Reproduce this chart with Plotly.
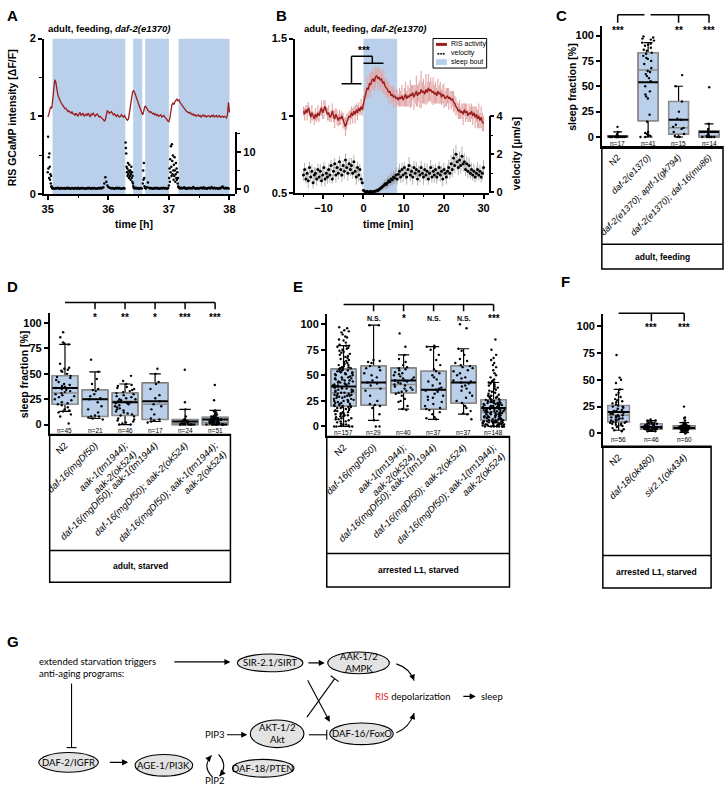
import plotly.graph_objects as go

FONT = "Liberation Sans, Arial, sans-serif"
GFONT = "Lato, Liberation Sans, sans-serif"
W, H = 726, 792
RED = "#9a1c1c"
PINK = "#e2a6a6"
BLUE = "#b9cfea"
GRAY = "#8c8c8c"

# ================= DATA =================
# ---- Panel A: RIS GCaMP (dF/F), one value per minute from 35 h ----
A_ris_start_h = 35.0
A_ris_step_min = 1.0
A_ris = [0.99, 1.02, 1.08, 1.12, 1.10,
         1.25, 1.40, 1.47, 1.44,
         1.35, 1.28, 1.24, 1.20, 1.18, 1.16, 1.14,
         1.12, 1.10, 1.10, 1.08, 1.06, 1.07, 1.05, 1.04, 1.06, 1.03,
         1.03, 1.01, 1.04, 1.02, 1.00, 1.03, 1.05, 1.01, 1.02, 1.04, 1.00, 1.02, 1.03, 1.01, 1.04,
         1.02, 0.99, 1.03, 1.02, 1.04, 1.01, 1.00, 1.02, 1.03, 1.01,
         0.99, 1.00, 0.98, 0.97, 0.96, 0.94, 0.95,
         1.02, 1.07, 1.06, 1.04, 1.05, 1.06, 1.04,
         1.02, 1.03, 1.01, 1.00, 1.02, 1.01, 0.99, 1.00, 1.02, 1.00, 0.99,
         1.01, 0.98, 0.96, 0.95, 0.97,
         1.05, 1.15, 1.25, 1.31, 1.33, 1.31,
         1.27, 1.24, 1.20, 1.16, 1.12, 1.08, 1.04,
         1.02, 1.06, 1.12,
         1.13, 1.10, 1.08, 1.07,
         1.05, 1.06, 1.04, 1.03, 1.04, 1.02, 1.03, 1.01, 1.02, 1.00, 1.01, 1.02, 0.99, 1.00, 1.01,
         0.99, 0.98, 0.96, 0.94, 0.93,
         0.98, 1.08, 1.15, 1.17, 1.15, 1.19, 1.21,
         1.22, 1.20, 1.21, 1.18, 1.16, 1.14, 1.12, 1.10,
         1.09, 1.07, 1.06, 1.05, 1.04, 1.05, 1.03, 1.02, 1.03, 1.01, 1.02, 1.00, 1.01, 1.02, 1.00,
         1.01, 0.99, 1.00, 1.02, 1.00, 1.01, 0.99, 1.00, 1.01, 1.00, 0.99, 1.01, 1.00, 1.02, 0.99,
         1.00, 1.01, 0.99, 1.00, 1.01, 0.99, 1.00, 1.00, 0.99, 1.00, 0.99,
         0.98, 1.02, 1.18, 1.05]
A_bout_start = [35.08, 36.41, 36.61, 37.16]
A_bout_end = [36.28, 36.56, 37.00, 38.00]
# velocity (um/s) in segments: start time (h), sampling step (s), values
A_vel_seg_start_h = [35.0, 35.085, 36.285, 36.42, 36.57, 36.605, 37.0, 37.17]
A_vel_seg_step_s = [20, 60, 20, 60, 20, 60, 20, 60]
A_vel_w1 = [4.5, 14.0, 5.5, 8.5, 3.0, 9.5, 6.0, 2.5, 4.0, 1.5, 3.5, 0.8, 0.5, 0.3, 0.2]
A_vel_s1 = [0.3, 0.2, 0.1, 0.3, 0.2, 0.4, 0.2, 0.1, 0.3, 0.2,
            0.2, 0.3, 0.1, 0.2, 0.4, 0.2, 0.3, 0.1, 0.2, 0.3,
            0.2, 0.1, 0.3, 0.2, 0.2, 0.4, 0.1, 0.2, 0.3, 0.2,
            0.3, 0.2, 0.1, 0.2, 0.3, 0.2, 0.4, 0.2, 0.1, 0.3,
            0.2, 0.3, 0.2, 0.1, 0.2, 0.3, 0.2, 0.4, 0.2, 0.3,
            0.5, 1.5, 3.2, 2.0, 1.0, 0.6, 0.4, 0.3, 0.2, 0.3,
            0.2, 0.1, 0.3, 0.2, 0.4, 0.2, 0.3, 0.2, 0.1, 0.2,
            0.3, 0.2]
A_vel_w2 = [12.5, 11.0, 9.5, 6.0, 4.5, 5.5, 3.5, 7.0, 4.0, 5.0, 3.0, 6.5,
            4.5, 3.5, 5.0, 2.5, 4.0, 6.0, 3.0, 4.5, 2.0, 3.5, 1.5, 0.8]
A_vel_s2 = [0.3, 0.2, 0.4, 0.2, 0.3, 0.1, 0.2, 0.3, 0.2]
A_vel_w3 = [1.5, 5.0, 2.5, 7.0, 3.0, 0.8]
A_vel_s3 = [0.3, 0.2, 0.5, 1.8, 0.4, 0.2, 0.3, 0.2, 0.1, 0.3, 0.2, 0.4,
            0.2, 0.3, 0.1, 0.2, 0.3, 0.2, 0.4, 0.2, 0.3, 0.2, 0.1, 0.3]
A_vel_w4 = [1.0, 3.0, 5.5, 2.0, 8.0, 4.5, 11.5, 6.0, 3.5, 12.0, 7.5, 4.0, 9.0, 5.0, 2.5,
            6.5, 3.5, 8.5, 5.0, 2.0, 4.0, 7.0, 3.0, 5.5, 2.5, 4.5, 1.5, 3.0, 0.8, 0.5]
A_vel_s4 = [0.3, 0.2, 0.4, 0.2, 0.3, 0.5, 0.2, 0.1, 0.3, 0.2,
            0.4, 0.2, 0.3, 0.2, 0.6, 0.3, 0.2, 0.1, 0.3, 0.2,
            0.2, 0.4, 0.3, 0.2, 0.5, 0.2, 0.3, 0.1, 0.2, 0.4,
            0.3, 0.2, 0.6, 0.3, 0.2, 0.4, 0.2, 0.3, 0.2, 0.1,
            0.3, 0.2, 0.5, 0.7, 0.3, 0.2, 0.4, 0.2, 0.3, 0.2]
A_vel_segments = [A_vel_w1, A_vel_s1, A_vel_w2, A_vel_s2, A_vel_w3, A_vel_s3, A_vel_w4, A_vel_s4]

# ---- Panel B: sleep-bout aligned averages, every 0.3 min from -15 min ----
B_start_min = -15.0
B_step_min = 0.3
B_ris = [1.03, 1.01, 1.04, 1.02, 1.05, 1.03, 0.99, 1.02, 1.00, 0.98,
         1.01, 0.99, 1.02, 1.00, 1.03, 1.05, 1.02, 1.04, 1.06, 1.03,
         1.01, 1.02, 0.99, 1.00, 1.03, 1.00, 0.98, 1.01, 0.99, 0.97,
         0.99, 0.98, 1.00, 0.97, 0.95, 0.93, 0.96, 0.98, 1.00, 0.99,
         1.02, 1.00, 1.03, 1.01, 1.04, 1.02, 1.05, 1.03, 1.06, 1.04,
         1.08, 1.12, 1.15, 1.18, 1.17, 1.21, 1.20, 1.23, 1.24, 1.22,
         1.25, 1.26, 1.24, 1.25, 1.23, 1.24, 1.21, 1.22, 1.19, 1.18,
         1.17, 1.15, 1.16, 1.13, 1.14, 1.12, 1.13, 1.11, 1.12, 1.10,
         1.12, 1.11, 1.13, 1.10, 1.12, 1.14, 1.11, 1.13, 1.12, 1.14,
         1.13, 1.15, 1.12, 1.14, 1.16, 1.13, 1.15, 1.14, 1.17, 1.15,
         1.16, 1.14, 1.17, 1.15, 1.18, 1.16, 1.17, 1.15, 1.16, 1.14,
         1.15, 1.13, 1.16, 1.14, 1.15, 1.12, 1.14, 1.13, 1.11, 1.12,
         1.13, 1.11, 1.12, 1.10, 1.11, 1.09, 1.08, 1.06, 1.05, 1.03,
         1.04, 1.02, 1.03, 1.01, 1.04, 1.02, 1.03, 1.00, 1.02, 1.01,
         1.03, 1.00, 1.02, 0.99, 1.01, 0.98, 1.00, 0.97, 0.99, 0.96, 0.95]
B_ris_sem = [0.03, 0.04, 0.03, 0.05, 0.04, 0.03, 0.04, 0.05, 0.03, 0.04,
             0.04, 0.03, 0.05, 0.04, 0.03, 0.05, 0.04, 0.06, 0.04, 0.03,
             0.04, 0.05, 0.03, 0.04, 0.05, 0.04, 0.06, 0.04, 0.05, 0.04,
             0.05, 0.04, 0.03, 0.05, 0.04, 0.06, 0.05, 0.04, 0.03, 0.05,
             0.04, 0.05, 0.03, 0.06, 0.04, 0.05, 0.04, 0.03, 0.05, 0.04,
             0.05, 0.06, 0.04, 0.07, 0.05, 0.06, 0.08, 0.05, 0.07, 0.06,
             0.07, 0.05, 0.08, 0.06, 0.07, 0.05, 0.06, 0.08, 0.05, 0.06,
             0.05, 0.07, 0.04, 0.06, 0.05, 0.07, 0.04, 0.06, 0.05, 0.04,
             0.06, 0.05, 0.07, 0.04, 0.06, 0.08, 0.05, 0.07, 0.06, 0.09,
             0.07, 0.05, 0.08, 0.06, 0.10, 0.07, 0.06, 0.09, 0.12, 0.07,
             0.08, 0.06, 0.10, 0.07, 0.09, 0.06, 0.08, 0.07, 0.09, 0.06,
             0.07, 0.05, 0.08, 0.06, 0.07, 0.05, 0.06, 0.08, 0.05, 0.06,
             0.05, 0.07, 0.04, 0.06, 0.05, 0.07, 0.05, 0.06, 0.04, 0.05,
             0.06, 0.04, 0.05, 0.07, 0.04, 0.06, 0.05, 0.04, 0.06, 0.05,
             0.05, 0.06, 0.04, 0.07, 0.05, 0.06, 0.08, 0.05, 0.07, 0.06, 0.05]
B_vel = [0.9, 1.2, 0.7, 1.0, 0.6, 1.3, 0.8, 1.1, 0.5, 0.9,
         1.0, 0.7, 1.2, 0.8, 1.1, 0.6, 0.9, 1.3, 0.7, 1.0,
         0.8, 1.2, 0.9, 1.4, 0.7, 1.1, 1.5, 0.9, 1.3, 1.0,
         1.6, 1.2, 0.9, 1.4, 1.1, 1.7, 1.3, 1.0, 1.5, 1.2,
         1.4, 1.0, 1.6, 1.1, 0.8, 1.3, 0.9, 1.2, 0.7, 0.5,
         0.1, 0.05, 0.0, 0.05, 0.0, 0.02, 0.05, 0.0, 0.03, 0.05,
         0.05, 0.1, 0.08, 0.15, 0.2, 0.25, 0.3, 0.35, 0.45, 0.4,
         0.5, 0.6, 0.55, 0.7, 0.65, 0.8, 0.75, 0.9, 0.7, 0.95,
         1.1, 0.8, 1.2, 0.9, 1.3, 1.0, 0.8, 1.2, 1.4, 0.9,
         1.1, 0.8, 1.3, 1.0, 1.2, 0.7, 1.1, 0.9, 1.3, 1.0,
         0.8, 1.2, 0.9, 1.1, 0.7, 1.0, 1.3, 0.8, 1.1, 0.9,
         1.2, 0.8, 1.0, 1.3, 0.9, 1.1, 0.7, 1.2, 1.0, 0.8,
         1.1, 1.3, 1.0, 1.5, 1.2, 1.8, 1.4, 2.0, 1.6, 1.3,
         1.7, 1.4, 1.9, 1.5, 1.6, 1.2, 1.5, 1.1, 1.4, 1.0,
         1.2, 0.9, 1.1, 0.8, 1.0, 1.2, 0.9, 1.1, 0.8, 1.0, 1.3]
B_vel_sem = [0.3, 0.35, 0.25, 0.3, 0.4, 0.3, 0.25, 0.35, 0.3, 0.4,
             0.3, 0.35, 0.3, 0.25, 0.4, 0.3, 0.35, 0.3, 0.4, 0.3,
             0.35, 0.3, 0.4, 0.3, 0.25, 0.35, 0.3, 0.4, 0.3, 0.35,
             0.3, 0.4, 0.35, 0.3, 0.4, 0.35, 0.3, 0.4, 0.3, 0.35,
             0.4, 0.3, 0.35, 0.3, 0.4, 0.3, 0.35, 0.3, 0.25, 0.2,
             0.05, 0.04, 0.03, 0.04, 0.03, 0.04, 0.05, 0.04, 0.05, 0.06,
             0.08, 0.1, 0.1, 0.12, 0.15, 0.15, 0.2, 0.2, 0.25, 0.25,
             0.3, 0.3, 0.25, 0.35, 0.3, 0.35, 0.3, 0.4, 0.3, 0.35,
             0.4, 0.3, 0.35, 0.4, 0.3, 0.35, 0.4, 0.3, 0.45, 0.35,
             0.3, 0.4, 0.35, 0.3, 0.4, 0.35, 0.3, 0.4, 0.35, 0.3,
             0.4, 0.35, 0.3, 0.4, 0.3, 0.35, 0.4, 0.3, 0.35, 0.4,
             0.3, 0.35, 0.4, 0.3, 0.35, 0.3, 0.4, 0.35, 0.3, 0.4,
             0.35, 0.4, 0.3, 0.45, 0.4, 0.5, 0.4, 0.5, 0.45, 0.4,
             0.45, 0.4, 0.5, 0.4, 0.45, 0.35, 0.4, 0.35, 0.4, 0.3,
             0.35, 0.3, 0.4, 0.3, 0.35, 0.4, 0.3, 0.35, 0.3, 0.35, 0.4]
B_bout = [0.0, 8.4]

# ---- Panel C: adult, feeding (sleep fraction %) ----
C_labels = ["N2", "<i>daf-2(e1370)</i>", "<i>daf-2(e1370); aptf-1(gk794)</i>",
            "<i>daf-2(e1370); daf-16(mu86)</i>"]
C_pts = [
    [0, 0, 0, 0, 0, 0, 0, 0, 0, 0, 0.5, 1, 1, 2, 3, 5, 10],
    [0, 0, 1, 1, 2, 3, 4, 5, 15, 22, 38, 40, 42, 45, 50, 55, 58, 60, 62, 64, 65, 68,
     72, 75, 77, 78, 80, 82, 83, 85, 86, 88, 90, 91, 92, 93, 95, 96, 97, 98, 99],
    [0, 0, 1, 3, 5, 8, 9, 10, 12, 17, 18, 25, 35, 50, 61],
    [0, 0, 0, 0, 0, 0, 1, 2, 3, 5, 6, 8, 13, 49],
]
C_q1 = [0, 16, 3, 0]
C_med = [0.5, 66, 9, 1]
C_q3 = [1, 83, 35, 6]
C_lo = [0, 0, 0, 0]
C_hi = [5, 93, 50, 13]
C_mean = [0.5, 54, 17, 5]
C_sig = ["***", "", "**", "***"]

# ---- Panel D: adult, starved ----
DE_labels = ["N2", "<i>daf-16(mgDf50)</i>", "<i>aak-1(tm1944);<br>aak-2(ok524)</i>",
             "<i>daf-16(mgDf50); aak-1(tm1944)</i>", "<i>daf-16(mgDf50); aak-2(ok524)</i>",
             "<i>daf-16(mgDf50); aak-1(tm1944);<br>aak-2(ok524)</i>"]
D_pts = [
    [1, 8, 10, 12, 13, 14, 15, 17, 19, 20, 21, 22, 24, 25, 27, 28, 29, 30, 31, 32, 33, 34, 35,
     36, 37, 38, 39, 40, 42, 44, 46, 47, 48, 50, 52, 53, 54, 55, 56, 60, 79, 80, 81, 86, 91],
    [5, 6, 7, 8, 8, 9, 12, 15, 18, 22, 25, 26, 28, 30, 33, 34, 35, 40, 45, 52, 64],
    [0, 0, 1, 2, 3, 4, 5, 6, 8, 9, 10, 11, 12, 13, 14, 15, 16, 17, 18, 19, 20, 21, 21, 22, 22,
     23, 24, 25, 25, 26, 27, 28, 29, 30, 31, 32, 33, 34, 35, 36, 37, 38, 39, 40, 43, 48],
    [2, 3, 4, 5, 6, 10, 15, 18, 20, 23, 26, 29, 35, 40, 42, 50, 55],
    [0, 0, 0, 0, 0, 0, 0, 0, 0, 1, 1, 2, 2, 3, 3, 3, 4, 4, 5, 5, 8, 15, 22, 54],
    [0, 0, 0, 0, 0, 0, 0, 0, 0, 0, 0, 0, 1, 1, 1, 1, 2, 2, 2, 2, 3, 3, 3, 3, 4, 4, 4, 4, 5, 5,
     5, 5, 5, 6, 6, 6, 6, 7, 7, 7, 8, 8, 9, 9, 10, 11, 12, 13, 14, 24, 39],
]
D_q1 = [20, 8, 9, 5, 0, 0]
D_med = [31, 25, 23, 20, 1, 2]
D_q3 = [48, 34, 31, 41, 5, 7]
D_lo = [13, 6, 0, 3, 0, 0]
D_hi = [79, 52, 40, 50, 15, 14]
D_mean = [36, 25, 22, 23, 3, 5]
D_sig = ["", "*", "**", "*", "***", "***"]

# ---- Panel E: arrested L1, starved ----
E_pts = [
    [0, 0, 0, 0, 1, 1, 2, 2, 3, 4, 5, 5, 6, 7, 7, 8, 8, 9, 10, 10, 11, 11, 12, 12, 13, 13, 14,
     14, 15, 15, 16, 16, 17, 17, 18, 18, 19, 19, 19,
     20, 20, 21, 21, 22, 22, 23, 23, 24, 24, 25, 25, 26, 26, 27, 27, 28, 28, 29, 29,
     30, 30, 31, 31, 32, 32, 33, 33, 34, 34, 35, 35, 36, 36, 37, 37, 38, 38, 39, 39,
     40, 40, 41, 41, 42, 42, 43, 43, 44, 44, 45, 45, 46, 46, 47, 47, 48, 48, 49, 50,
     50, 51, 51, 52, 52, 53, 53, 54, 54, 55, 55, 56, 56, 20, 25, 30, 35, 38, 40,
     57, 57, 58, 58, 59, 60, 60, 61, 62, 63, 64, 65, 66, 67, 68, 69, 70, 71, 72, 73,
     74, 75, 76, 77, 78, 79, 79, 80, 82, 84, 85, 87, 88, 90, 92, 93, 94, 96, 97],
    [0, 0, 6, 12, 18, 20, 21, 22, 25, 30, 35, 37, 40, 42, 43, 45, 48, 50, 52, 55, 57, 58, 59,
     62, 63, 64, 65, 99, 99],
    [16, 17, 20, 24, 25, 27, 30, 32, 33, 34, 35, 36, 37, 38, 39, 40, 41, 42, 43, 44, 45, 45,
     46, 47, 48, 49, 50, 51, 52, 53, 55, 56, 57, 58, 60, 63, 66, 70, 78, 91],
    [7, 8, 9, 12, 14, 16, 17, 18, 20, 22, 24, 26, 28, 29, 30, 32, 34, 35, 36, 37, 38, 40, 42,
     44, 46, 48, 50, 52, 54, 56, 60, 65, 70, 75, 77, 78, 79],
    [7, 12, 13, 15, 18, 20, 23, 25, 28, 30, 33, 35, 37, 39, 40, 42, 43, 44, 45, 47, 48, 50, 52,
     54, 55, 57, 58, 59, 60, 62, 64, 66, 70, 74, 76, 96, 100],
    [0, 0, 0, 0, 0, 0, 0, 0, 1, 1, 1, 1, 1, 2, 2, 2, 2, 2, 3, 3, 3, 3, 3, 4, 4, 4, 4, 4, 4, 4,
     5, 5, 5, 5, 5, 5, 5,
     6, 6, 6, 7, 7, 7, 8, 8, 8, 9, 9, 9, 10, 10, 10, 11, 11, 11, 12, 12, 12, 13, 13, 13, 14,
     14, 14, 14, 15, 15, 15, 15, 16, 16, 16, 17, 17, 17, 18, 18, 18, 18, 19, 19, 19, 20, 20,
     20, 21, 21, 21, 22, 22, 22, 23, 23, 23, 24, 24, 24, 25, 25, 25, 26, 26, 26, 11, 13, 15,
     17, 19, 21, 23, 16,
     27, 27, 28, 28, 29, 29, 30, 30, 31, 32, 33, 34, 35, 36, 37, 38, 39, 40, 41, 42, 43, 43,
     44, 45, 46, 48, 50, 52, 55, 58, 60, 62, 65, 67, 70, 75, 85],
]
E_q1 = [20, 21, 33, 17, 23, 6]
E_med = [33, 37, 41, 36, 43, 14]
E_q3 = [56, 59, 57, 54, 59, 26]
E_lo = [0, 6, 17, 7, 12, 0]
E_hi = [79, 99, 70, 78, 76, 43]
E_mean = [39, 43, 45, 36, 43, 18]
E_sig = ["", "N.S.", "*", "N.S.", "N.S.", "***"]

# ---- Panel F: arrested L1, starved ----
F_labels = ["N2", "<i>daf-18(ok480)</i>", "<i>sir2.1(ok434)</i>"]
F_pts = [
    [2, 3, 4, 5, 6, 7, 7, 8, 8, 9, 9, 10, 10, 10,
     11, 11, 12, 12, 13, 13, 14, 14, 15, 15, 16, 16, 17, 17, 18, 18, 19, 19, 20, 20, 21, 21,
     22, 23, 24, 25, 25, 26,
     27, 28, 29, 30, 31, 32, 34, 36, 38, 41, 47, 50, 52, 73],
    [2, 2, 3, 3, 3, 4, 4, 4, 4, 4, 4, 5, 5, 5, 5, 5, 5, 5, 6, 6, 6, 6, 6, 6, 6, 7, 7, 7, 7, 7,
     8, 8, 8, 8, 9, 9, 9, 9, 10, 10, 10, 11, 11, 12, 12, 13],
    [0, 1, 1, 2, 2, 3, 3, 3, 3, 3, 4, 4, 4, 4, 4, 4, 4, 4, 4, 4, 5, 5, 5, 5, 5, 5, 5, 5, 5, 5,
     5, 5, 6, 6, 6, 6, 6, 6, 6, 6, 6, 6, 7, 7, 7, 7, 7, 7, 7, 7, 8, 8, 9, 9, 10, 10, 12, 14,
     15, 25],
]
F_q1 = [11, 4, 4]
F_med = [17, 5, 5]
F_q3 = [26, 9, 7]
F_lo = [3, 2, 1]
F_hi = [41, 12, 10]
F_mean = [20, 6, 5]
F_sig = ["", "***", "***"]

# ================= HELPERS =================
def xd(a, b):
    return [a / W, b / W]


def yd(top, bottom):
    return [1 - bottom / H, 1 - top / H]


fig = go.Figure()
shapes = []
annos = []


def txt(x, y, s, size, bold=False, xanchor="center", yanchor="middle", angle=0,
        color="black", family=FONT, xref="x7", yref="y9", align="center"):
    annos.append(dict(x=x, y=y, xref=xref, yref=yref, text=(f"<b>{s}</b>" if bold else s),
                      showarrow=False, xanchor=xanchor, yanchor=yanchor, textangle=angle,
                      font=dict(family=family, size=size, color=color), align=align))


def seg(x0, y0, x1, y1, xref="x7", yref="y9", w=1.5, color="black"):
    shapes.append(dict(type="line", x0=x0, y0=y0, x1=x1, y1=y1, xref=xref, yref=yref,
                       line=dict(color=color, width=w)))


def arrow(xt, yt, xh, yh, w=1.1, head=2, size=1.1):
    annos.append(dict(x=xh, y=yh, ax=xt, ay=yt, xref="x7", yref="y9", axref="x7", ayref="y9",
                      text="", showarrow=True, arrowhead=head, arrowsize=size, arrowwidth=w,
                      arrowcolor="black", standoff=0, startstandoff=0))


AX = dict(showline=True, linecolor="black", linewidth=1.5, ticks="outside", tickcolor="black",
          tickwidth=1.5, ticklen=4, showgrid=False, zeroline=False,
          tickfont=dict(family=FONT, size=11, color="black", weight="bold"))
MINOR = dict(ticks="outside", ticklen=2.5, tickcolor="black", tickwidth=1)

# ================= PANEL A =================
A_t = [A_ris_start_h + i * A_ris_step_min / 60 for i in range(len(A_ris))]
A_vt, A_vv = [], []
for t0, dt, vals in zip(A_vel_seg_start_h, A_vel_seg_step_s, A_vel_segments):
    for k, v in enumerate(vals):
        A_vt.append(t0 + k * dt / 3600)
        A_vv.append(v)
for s, e in zip(A_bout_start, A_bout_end):
    shapes.append(dict(type="rect", xref="x", yref="y", x0=s, x1=e, y0=0, y1=2,
                       fillcolor=BLUE, line=dict(width=0), layer="below"))
fig.add_trace(go.Scatter(x=A_t, y=A_ris, mode="lines", line=dict(color=RED, width=1.3),
                         xaxis="x", yaxis="y"))
fig.add_trace(go.Scatter(x=A_vt, y=A_vv, mode="markers", marker=dict(color="black", size=2.5),
                         xaxis="x", yaxis="y2"))

# ================= PANEL B =================
B_t = [B_start_min + i * B_step_min for i in range(len(B_ris))]
shapes.append(dict(type="rect", xref="x2", yref="y3", x0=B_bout[0], x1=B_bout[1], y0=0.5,
                   y1=1.5, fillcolor=BLUE, line=dict(width=0), layer="below"))
fig.add_trace(go.Scatter(x=B_t, y=B_ris, mode="markers", marker=dict(size=1, color="rgba(0,0,0,0)"),
                         error_y=dict(type="data", array=B_ris_sem, color=PINK, thickness=1.1, width=0),
                         xaxis="x2", yaxis="y3"))
fig.add_trace(go.Scatter(x=B_t, y=B_ris, mode="lines", line=dict(color=RED, width=1.4),
                         xaxis="x2", yaxis="y3"))
fig.add_trace(go.Scatter(x=B_t, y=B_vel, mode="markers", marker=dict(color="black", size=3),
                         error_y=dict(type="data", array=B_vel_sem, color="#a0a0a0", thickness=0.8, width=0),
                         xaxis="x2", yaxis="y4"))
# significance bracket in B
for (x0, y0, x1, y1) in [(-5.5, 1.207, -0.5, 1.207), (-3, 1.207, -3, 1.385), (-3, 1.385, 2.2, 1.385),
                         (2.2, 1.385, 2.2, 1.34), (0, 1.34, 5, 1.34)]:
    seg(x0, y0, x1, y1, xref="x2", yref="y3", w=1.5)
txt(0.2, 1.425, "***", 10, bold=True, xref="x2", yref="y3")
# legend of B
shapes.append(dict(type="rect", xref="x7", yref="y9", x0=432, x1=486, y0=33, y1=63,
                   line=dict(color="black", width=1), fillcolor="white"))
shapes.append(dict(type="rect", xref="x7", yref="y9", x0=435, x1=446, y0=37.5, y1=40.5,
                   line=dict(width=0), fillcolor=RED))
txt(440.5, 48, "●●●", 4.5)
shapes.append(dict(type="rect", xref="x7", yref="y9", x0=435, x1=446, y0=54, y1=60,
                   line=dict(width=0), fillcolor=BLUE))
txt(448, 39, "RIS activity", 7, xanchor="left")
txt(448, 48, "velocity", 7, xanchor="left")
txt(448, 57, "sleep bout", 7, xanchor="left")


# ================= BOX PANELS =================
def box_panel(xa, ya, pts, q1, med, q3, lo, hi, mean, width, wwidth):
    idx = list(range(len(pts)))
    common = dict(xaxis=xa, yaxis=ya, boxpoints=False, hoverinfo="skip", width=width)
    fig.add_trace(go.Box(x=idx, q1=q1, median=q1, q3=q3, lowerfence=lo, upperfence=hi,
                         whiskerwidth=wwidth, fillcolor="rgba(0,0,0,0)",
                         line=dict(color="black", width=1.2), **common))
    fig.add_trace(go.Box(x=idx, q1=q1, median=med, q3=q3, lowerfence=q1, upperfence=q3,
                         whiskerwidth=0, fillcolor=BLUE, line=dict(color=GRAY, width=1.5), **common))
    fig.add_trace(go.Box(x=idx, q1=mean, median=mean, q3=mean, lowerfence=mean, upperfence=mean,
                         whiskerwidth=0, fillcolor="rgba(0,0,0,0)",
                         line=dict(color="black", width=2), **common))
    xs, ys = [], []
    for i, p in enumerate(pts):
        xs += [i] * len(p)
        ys += p
    fig.add_trace(go.Box(x=xs, y=ys, boxpoints="all", jitter=0.9, pointpos=0, width=width,
                         fillcolor="rgba(0,0,0,0)", line=dict(width=0, color="rgba(0,0,0,0)"),
                         marker=dict(color="black", size=2.4), xaxis=xa, yaxis=ya,
                         hoverinfo="skip"))
    for i, p in enumerate(pts):
        annos.append(dict(x=i, y=-6, xref=xa, yref=ya, text=f"n={len(p)}", showarrow=False,
                          font=dict(family=FONT, size=6.5, color="black")))


box_panel("x3", "y5", C_pts, C_q1, C_med, C_q3, C_lo, C_hi, C_mean, 0.65, 0.45)
box_panel("x4", "y6", D_pts, D_q1, D_med, D_q3, D_lo, D_hi, D_mean, 0.85, 0.45)
box_panel("x5", "y7", E_pts, E_q1, E_med, E_q3, E_lo, E_hi, E_mean, 0.83, 0.45)
box_panel("x6", "y8", F_pts, F_q1, F_med, F_q3, F_lo, F_hi, F_mean, 0.66, 0.45)

# significance brackets (x in category index, y in pixels)
# C: reference = daf-2(e1370)
seg(0, 9, 0.88, 9, xref="x3")
seg(1.08, 9, 3, 9, xref="x3")
for i in [0, 2, 3]:
    seg(i, 9, i, 17, xref="x3")
for i, s in enumerate(C_sig):
    if s:
        txt(i, 25, s, 10, bold=True, xref="x3")


def bracket(xa, n, yline, ytick, ystar, sigs, size=10):
    seg(0, yline, n - 1, yline, xref=xa)
    for i in range(1, n):
        seg(i, yline, i, ytick, xref=xa)
    for i, s in enumerate(sigs):
        if s:
            txt(i, ystar, s, (7 if s == "N.S." else size), bold=True, xref=xa)


bracket("x4", 6, 301, 308, 316, D_sig)
bracket("x5", 6, 303, 310, 317, E_sig)
bracket("x6", 3, 312, 320, 326, F_sig)

# condition boxes below the category labels
for (l, t, r, b, m, label) in [(602, 143, 724, 267, 242, "adult, feeding"),
                               (46, 435, 228, 585, 553, "adult, starved"),
                               (325, 437, 509, 590, 556, "arrested L1, starved"),
                               (603, 447, 712, 591, 558, "arrested L1, starved")]:
    shapes.append(dict(type="rect", xref="x7", yref="y9", x0=l, x1=r, y0=t, y1=b,
                       line=dict(color="black", width=1.5)))
    seg(l, m, r, m, w=1.5)
    txt((l + r) / 2, (m + b) / 2, label, 8.5, bold=True)

# ================= TEXT: titles, axis titles, letters =================
for (x, y, s) in [(9, 10, "A"), (279, 10, "B"), (561, 10, "C"), (9, 285, "D"), (296, 285, "E"),
                  (565, 280, "F"), (9, 645, "G")]:
    txt(x, y, s, 15, bold=True)
txt(106, 23, "adult, feeding, <i>daf-2(e1370)</i>", 9.5, bold=True)
txt(364, 23, "adult, feeding, <i>daf-2(e1370)</i>", 9.5, bold=True)
txt(8, 113, "RIS GCaMP intensity [ΔF/F]", 10.5, bold=True, angle=-90)
txt(131, 221, "time [h]", 10.5, bold=True)
txt(387, 221, "time [min]", 10.5, bold=True)
txt(515, 150, "velocity [µm/s]", 10.5, bold=True, angle=-90)
txt(572, 82, "sleep fraction [%]", 10.5, bold=True, angle=-90)
txt(20, 374, "sleep fraction [%]", 10.5, bold=True, angle=-90)

# ================= PANEL G: pathway diagram =================
ellipses = [(268, 667, 33, 9, "SIR-2.1/SIRT"), (357, 667, 31, 11, "AAK-1/2<br>AMPK"),
            (275, 739, 27, 14, "AKT-1/2<br>Akt"), (360, 739, 32, 11, "DAF-16/FoxO"),
            (65, 768, 30, 10, "DAF-2/IGFR"), (161, 771, 29, 11, "AGE-1/PI3K"),
            (261, 774, 31, 9, "DAF-18/PTEN")]
for (cx, cy, rx, ry, s) in ellipses:
    shapes.append(dict(type="circle", xref="x7", yref="y9", x0=cx - rx, x1=cx + rx,
                       y0=cy - ry, y1=cy + ry, fillcolor="#e3e3e3",
                       line=dict(color="black", width=1.1)))
    txt(cx, cy, s, 9.5, family=GFONT)
txt(33, 672, "extended starvation triggers<br>anti-aging programs:", 9.5, family=GFONT,
    xanchor="left", align="left")
txt(212, 740, "PIP3", 9.5, family=GFONT)
txt(212, 786, "PIP2", 9.5, family=GFONT)
txt(372, 701, "<span style='color:#e3262b'>RIS</span> depolarization", 9.5, family=GFONT,
    xanchor="left")
txt(478, 701, "sleep", 9.5, family=GFONT, xanchor="left")

arrow(170, 666, 228, 666)
arrow(305, 667, 323, 667)
arrow(105, 768, 125, 768)
arrow(223, 740, 245, 740)
arrow(305, 683, 328, 727)
arrow(461, 701, 475, 701)
# inhibitions
seg(68, 688, 68, 753, w=1.1)
seg(63, 753, 73, 753, w=1.1)
seg(307, 740, 325, 740, w=1.1)
seg(325, 735, 325, 745, w=1.1)
seg(305, 722, 333, 683, w=1.1)
seg(329, 680, 337, 686, w=1.1)
# curved arrows
for (p0, c, p1) in [((395, 668), (408, 672), (413, 685)), ((395, 738), (408, 733), (413, 718)),
                    ((210, 783), (199, 772), (209, 761)), ((216, 760), (226, 771), (217, 782))]:
    shapes.append(dict(type="path", xref="x7", yref="y9",
                       path=f"M {p0[0]},{p0[1]} Q {c[0]},{c[1]} {p1[0]},{p1[1]}",
                       line=dict(color="black", width=1.1)))
    tx = p1[0] - 0.35 * (p1[0] - c[0])
    ty = p1[1] - 0.35 * (p1[1] - c[1])
    arrow(tx, ty, p1[0], p1[1])

# ================= LAYOUT =================
cat_font = lambda s: dict(family=FONT, size=s, color="black")
fig.update_layout(
    width=W, height=H, margin=dict(l=0, r=0, t=0, b=0), autosize=False,
    paper_bgcolor="white", plot_bgcolor="rgba(0,0,0,0)", showlegend=False,
    boxmode="overlay",
    xaxis=dict(AX, domain=xd(40, 233), range=[34.934, 38.098], anchor="y",
               tickvals=[35, 36, 37, 38], minor=dict(MINOR, tickvals=[35.5, 36.5, 37.5])),
    yaxis=dict(AX, domain=yd(33, 191), range=[0, 2], anchor="x", tickvals=[0, 1, 2],
               minor=dict(MINOR, tickvals=[0.5, 1.5])),
    yaxis2=dict(AX, domain=yd(128, 191), range=[-1.32, 15.26], anchor="x", side="right",
                tickvals=[0, 10], minor=dict(MINOR, tickvals=[5, 15])),
    xaxis2=dict(AX, domain=xd(293, 488), range=[-17.12, 31.27], anchor="y3",
                tickvals=[-10, 0, 10, 20, 30], minor=dict(MINOR, tickvals=[-15, -5, 5, 15, 25])),
    yaxis3=dict(AX, domain=yd(33, 190), range=[0.5, 1.5], anchor="x2", tickvals=[0.5, 1, 1.5],
                ticktext=["0.5", "1", "1.5"]),
    yaxis4=dict(AX, domain=yd(112, 190), range=[-0.05, 4], anchor="x2", side="right",
                tickvals=[0, 2, 4], minor=dict(MINOR, tickvals=[1, 3])),
    xaxis3=dict(AX, domain=xd(602, 724), range=[-0.52, 3.46], anchor="y5", ticks="",
                tickvals=list(range(len(C_labels))), ticktext=C_labels, tickangle=-45,
                tickfont=cat_font(9)),
    yaxis5=dict(AX, domain=yd(20, 143), range=[-9.7, 109.7], anchor="x3",
                tickvals=[0, 25, 50, 75, 100]),
    xaxis4=dict(AX, domain=xd(46, 228), range=[-0.51, 5.51], anchor="y6", ticks="",
                tickvals=list(range(6)), ticktext=DE_labels, tickangle=-45, tickfont=cat_font(9.5)),
    yaxis6=dict(AX, domain=yd(312, 435), range=[-9.7, 109.7], anchor="x4",
                tickvals=[0, 25, 50, 75, 100]),
    xaxis5=dict(AX, domain=xd(325, 509), range=[-0.56, 5.53], anchor="y7", ticks="",
                tickvals=list(range(6)), ticktext=DE_labels, tickangle=-45, tickfont=cat_font(9.5)),
    yaxis7=dict(AX, domain=yd(313, 437), range=[-9.7, 109.7], anchor="x5",
                tickvals=[0, 25, 50, 75, 100]),
    xaxis6=dict(AX, domain=xd(603, 712), range=[-0.48, 2.82], anchor="y8", ticks="",
                tickvals=list(range(3)), ticktext=F_labels, tickangle=-45, tickfont=cat_font(9.5)),
    yaxis8=dict(AX, domain=yd(313, 447), range=[-11.9, 111], anchor="x6",
                tickvals=[0, 25, 50, 75, 100]),
    xaxis7=dict(domain=[0, 1], range=[0, W], visible=False, anchor="y9", fixedrange=True),
    yaxis9=dict(domain=[0, 1], range=[H, 0], visible=False, anchor="x7", fixedrange=True),
    shapes=shapes, annotations=annos,
)

fig.write_html("out.html", config={"displayModeBar": False},
               post_script="document.body.style.margin='0';document.body.style.overflow='hidden';")
